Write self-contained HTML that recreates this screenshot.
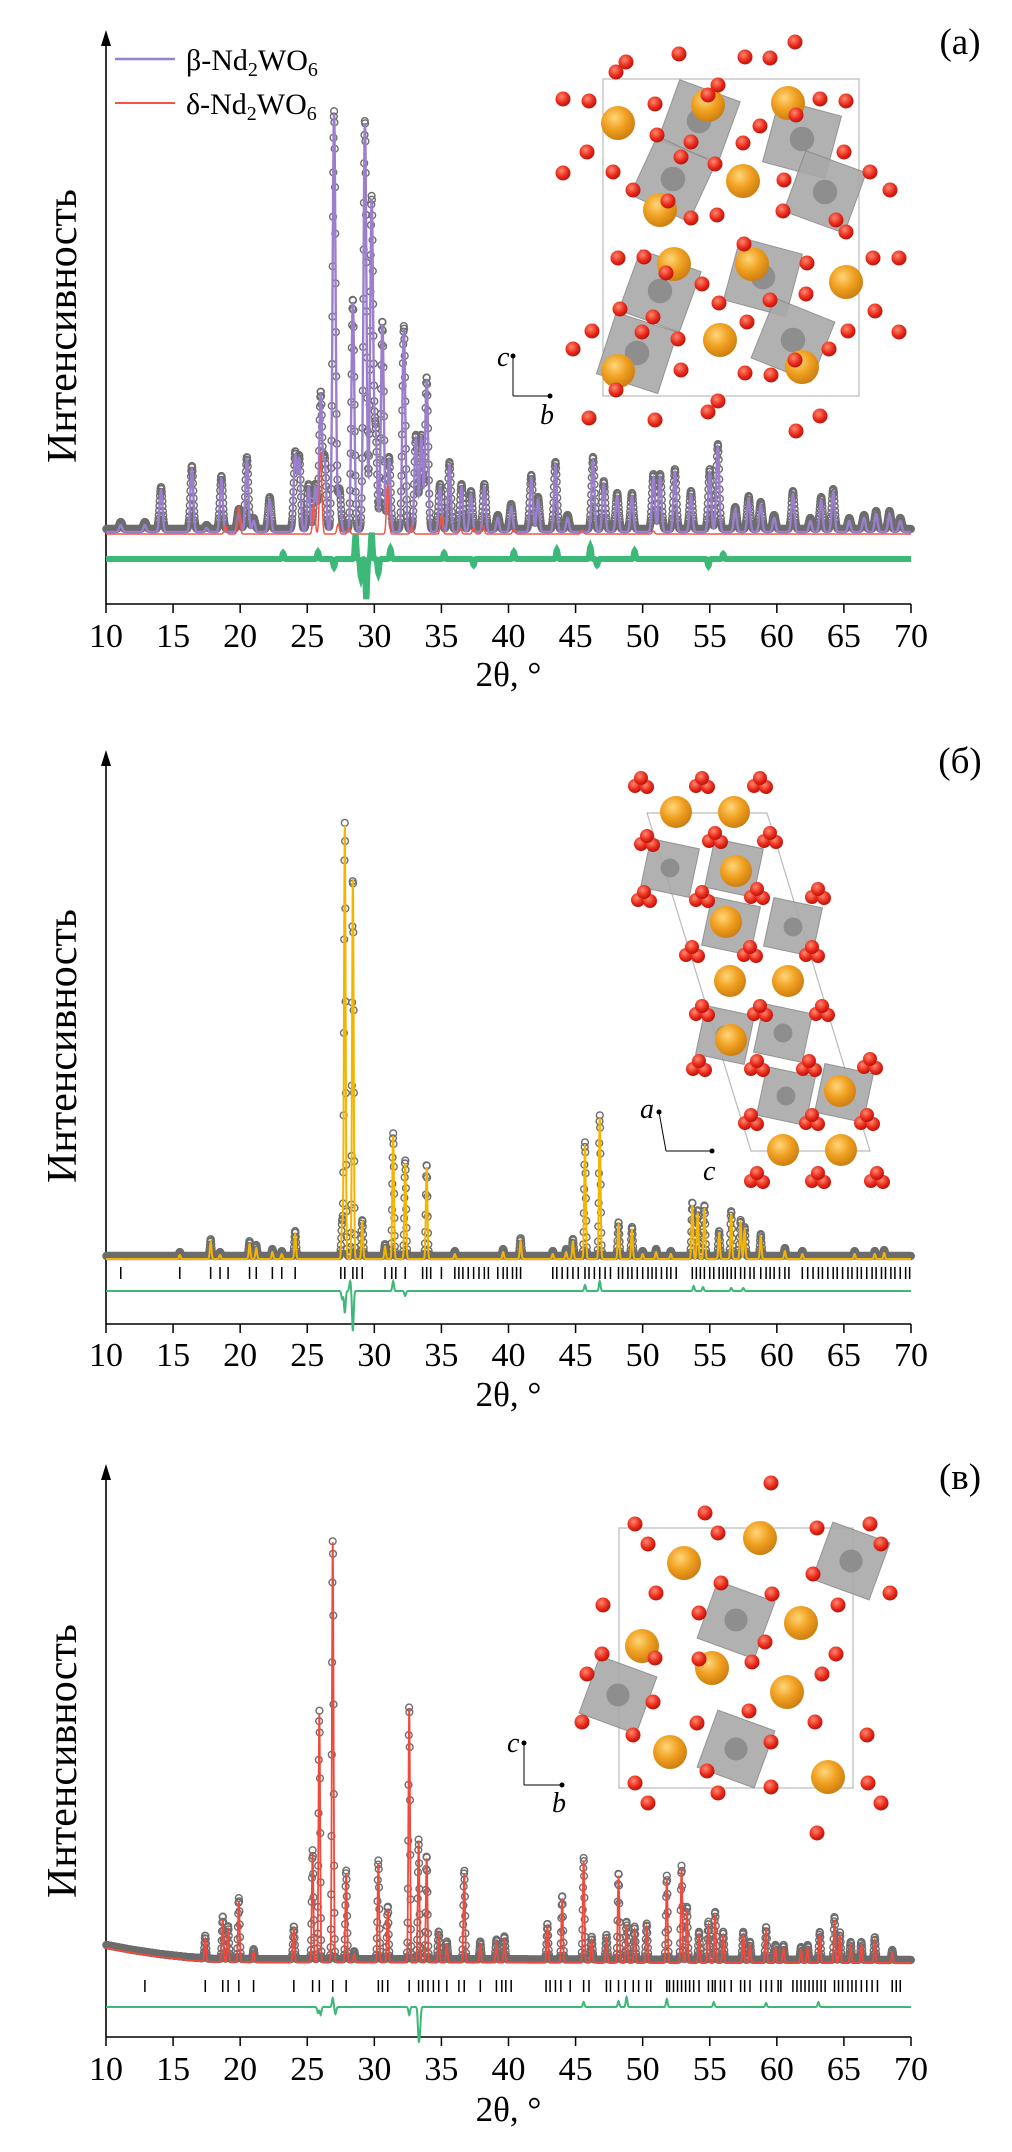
<!DOCTYPE html>
<html><head><meta charset="utf-8">
<style>
html,body{margin:0;padding:0;background:#fff;}
svg, svg text{font-family:"Liberation Serif","Times New Roman",serif;}
</style></head>
<body>
<svg id="fig" width="1012" height="2147" viewBox="0 0 1012 2147" xmlns="http://www.w3.org/2000/svg" font-family="Liberation Serif, serif">
<defs>
<radialGradient id="gOr" cx="0.4" cy="0.35" r="0.7"><stop offset="0" stop-color="#ffd67a"/><stop offset="0.5" stop-color="#f0a020"/><stop offset="1" stop-color="#c87a10"/></radialGradient>
<radialGradient id="gRd" cx="0.4" cy="0.35" r="0.7"><stop offset="0" stop-color="#ff8a70"/><stop offset="0.6" stop-color="#e8281a"/><stop offset="1" stop-color="#b01008"/></radialGradient>
</defs>
<g id="root"></g>
</svg>
<script>
// ---------- chart data ----------
const xTicks = [10,15,20,25,30,35,40,45,50,55,60,65,70];
// panel (a) beta-Nd2WO6 peaks
const aPeakPos = [11.1,12.9,14.1,16.4,17.5,18.6,19.9,20.5,21.0,22.2,24.1,24.4,25.1,25.6,26.0,26.3,27.0,27.4,28.4,29.3,29.8,30.1,30.6,31.1,32.2,33.1,33.5,33.9,34.9,35.6,36.5,37.2,38.2,39.2,40.2,41.7,42.2,43.5,44.4,46.3,47.1,48.1,49.2,50.8,51.3,52.4,53.6,55.0,55.6,56.9,57.9,58.8,59.8,61.2,62.5,63.3,64.2,65.4,66.5,67.4,68.4,69.2];
const aPeakInt = [7,7,42,63,4,53,20,72,11,32,76,72,45,45,136,70,418,40,230,409,331,94,208,72,203,94,94,152,45,67,45,38,45,14,25,54,32,67,14,72,48,36,36,55,55,60,38,60,85,22,33,27,14,38,11,32,40,11,14,18,18,11];
// panel (a) delta-Nd2WO6 peaks
const dPeakPos = [18.9,19.9,25.5,26.0,27.3,28.1,31.0,32.8,35.0,36.4,37.4,38.1,40.4,45.5,50.8];
const dPeakInt = [8,27,30,80,10,6,49,8,18,6,6,8,5,4,3];
// residual spikes (a)
const aResPos = [23.2,25.8,27.0,28.6,29.0,29.4,29.8,30.3,31.2,35.2,37.4,40.4,43.6,46.1,46.6,49.4,54.9,56.0];
const aResVal = [6,7,-8,24,-18,-40,26,-14,10,6,-6,7,9,12,-6,8,-7,5];
// panel (b) peaks
const bPeakPos = [15.5,17.8,18.5,20.7,21.2,22.4,23.1,24.1,27.6,27.8,28.4,29.1,30.8,31.4,32.3,33.9,36.0,39.6,40.9,43.3,44.3,44.8,45.7,46.8,48.2,49.2,50.0,51.0,52.1,53.7,54.1,54.6,55.7,56.6,57.3,57.6,58.8,60.6,61.9,65.8,67.3,68.0];
const bPeakInt = [4,17,4,15,11,7,5,25,34,434,380,36,12,123,96,92,5,7,18,5,7,17,114,141,34,29,5,7,5,54,46,51,25,45,36,29,22,8,5,5,5,6];
const bTicks = [11.1,15.5,17.8,18.5,19.1,20.7,21.2,22.4,23.1,24.1,27.5,27.8,28.4,28.7,29.1,30.8,31.3,31.6,32.3,33.6,33.9,34.2,35.0,36.0,36.3,36.6,37.0,37.4,37.8,38.2,38.5,39.2,39.6,39.9,40.3,40.6,40.9,43.3,43.6,44.0,44.4,44.8,45.2,45.7,46.0,46.4,46.8,47.2,47.6,48.2,48.5,48.9,49.2,49.6,50.0,50.4,50.7,51.0,51.4,51.8,52.1,52.5,53.7,54.0,54.3,54.6,55.0,55.3,55.7,56.0,56.3,56.6,56.9,57.3,57.6,58.0,58.3,58.8,59.2,59.5,59.8,60.2,60.6,60.9,61.9,62.3,62.7,63.1,63.4,63.8,64.2,64.5,64.9,65.3,65.6,66.0,66.3,66.7,67.1,67.4,67.8,68.1,68.5,68.8,69.2,69.6,69.9];
const bResPos = [27.6,27.8,28.2,28.4,31.4,32.3,45.7,46.8,53.8,54.5,56.6,57.5];
const bResVal = [-8,-22,10,-40,10,-5,6,10,5,4,3,3];
// panel (c) peaks
const cPeakPos = [17.4,18.7,19.1,19.9,21.0,24.0,25.4,25.9,26.9,27.9,28.5,30.3,31.0,32.6,33.3,33.9,34.8,35.4,36.7,37.9,39.1,39.7,42.9,44.0,45.6,46.2,47.3,48.2,48.8,49.4,50.3,51.8,52.9,53.3,54.2,54.9,55.4,56.0,57.5,58.0,59.2,59.9,60.5,61.8,62.3,63.2,64.3,64.7,65.5,66.3,67.3,68.6];
const cPeakInt = [23,43,33,61,10,33,109,249,420,89,8,99,53,254,120,104,28,18,89,18,20,23,36,64,102,23,25,87,38,33,36,84,94,53,28,38,48,28,28,18,33,15,15,13,15,28,43,28,18,18,23,10];
const cTicks = [12.9,17.4,18.7,19.1,19.9,21.0,24.0,25.4,25.9,26.9,27.9,30.3,30.6,31.0,32.6,33.3,33.6,34.0,34.4,34.8,35.4,36.3,36.7,37.9,39.1,39.5,39.8,40.2,42.8,43.1,43.5,43.9,44.6,45.6,46.0,47.3,47.6,48.2,48.7,49.3,49.7,50.3,50.6,51.8,52.0,52.3,52.6,52.9,53.2,53.5,53.8,54.2,54.9,55.2,55.4,55.8,56.1,56.6,57.3,57.6,58.0,58.8,59.2,59.6,60.1,60.3,61.2,61.5,61.8,62.1,62.4,62.7,63.0,63.3,63.6,64.3,64.6,64.9,65.3,65.6,65.9,66.3,66.7,67.1,67.5,68.6,68.9,69.2];
const cResPos = [25.8,26.0,26.9,27.1,32.6,33.3,33.4,45.6,48.2,48.8,51.8,55.3,59.2,63.1];
const cResVal = [-6,-8,9,-7,-8,-28,-20,5,6,10,8,5,4,5];
// background for (c)
const cBgPos = [10,12,14,16,18,70];
const cBgVal = [15,10,6,3,1,0];

// ---------- rendering ----------
const NS = "http://www.w3.org/2000/svg";
const FONT = '"Liberation Serif", "Times New Roman", serif';
const root = document.getElementById('root');
function mk(tag, attrs, parent){const e=document.createElementNS(NS,tag);for(const k in attrs)e.setAttribute(k,attrs[k]);if(tag==='text')e.setAttribute('font-family',FONT);(parent||root).appendChild(e);return e;}
const X0=106, X1=911;
function xs(t){return X0+(t-10)*(X1-X0)/60;}
function prof(pos,ints,w,t){let s=0;for(let i=0;i<pos.length;i++){const d=(t-pos[i])/w;if(Math.abs(d)<6)s+=ints[i]*Math.exp(-0.5*d*d);}return s;}
function bgInterp(t){for(let i=0;i<cBgPos.length-1;i++){if(t>=cBgPos[i]&&t<=cBgPos[i+1]){const f=(t-cBgPos[i])/(cBgPos[i+1]-cBgPos[i]);return cBgVal[i]+f*(cBgVal[i+1]-cBgVal[i]);}}return 0;}

function drawAxes(g, top, bot, lblY, titleY, ylabY, tag){
  const ax = mk('g',{},g);
  
  
  mk('line',{x1:X0,y1:bot,x2:X1,y2:bot,stroke:'#000','stroke-width':1.6},ax);
  mk('line',{x1:X0,y1:bot,x2:X0,y2:top+12,stroke:'#000','stroke-width':1.6},ax);
  const ar=mk('path',{d:`M${X0-5},${top+16} L${X0},${top} L${X0+5},${top+16} Z`,fill:'#000'},ax);
  
  xTicks.forEach(v=>{
    const x=xs(v);
    mk('line',{x1:x,y1:bot,x2:x,y2:bot+9,stroke:'#000','stroke-width':1.5},ax);
    const t=mk('text',{x:x,y:lblY,'text-anchor':'middle','font-size':34},ax);
    t.textContent=v;
    
    
  });
  const tt=mk('text',{x:(X0+X1)/2,y:titleY,'text-anchor':'middle','font-size':35},ax);
  tt.textContent='2θ, °';
  
  
  const yl=mk('text',{x:0,y:0,'text-anchor':'middle','font-size':42,transform:`translate(76,${ylabY}) rotate(-90)`},ax);
  yl.textContent='Интенсивность';
  
  
}

function drawPanel(cfg){
  const g=mk('g',{});
  
  
  drawAxes(g,cfg.top,cfg.bot,cfg.lblY,cfg.titleY,cfg.ylabY,cfg.tag);
  const ys=v=>cfg.base-v;
  const calc=t=>prof(cfg.pos,cfg.ints,cfg.w,t)+(cfg.bg?bgInterp(t):0);
  const og=mk('g',{fill:'none',stroke:'#6d6d6d','stroke-width':1.4},g);
  
  
  for(let t=10.02;t<70;t+=0.022){
    mk('circle',{cx:xs(t).toFixed(1),cy:(ys(calc(t))-3).toFixed(1),r:3.4},og);
  }
  let d='';
  for(let t=10;t<=70.0001;t+=0.01){d+=(d?'L':'M')+xs(t).toFixed(2)+','+ys(calc(t)).toFixed(2);}
  const cl=mk('path',{d:d,fill:'none',stroke:cfg.color,'stroke-width':cfg.lw||1.8},g);
  
  
  if(cfg.pos2){
    let d2='';
    for(let t=10;t<=70.0001;t+=0.01){d2+=(d2?'L':'M')+xs(t).toFixed(2)+','+(cfg.base+2-prof(cfg.pos2,cfg.ints2,0.09,t)).toFixed(2);}
    const p2=mk('path',{d:d2,fill:'none',stroke:'#f25548','stroke-width':1.5},g);
    
    
  }
  if(cfg.ticks){
    const tg=mk('g',{stroke:'#000','stroke-width':1.5},g);
    
    
    cfg.ticks.forEach(v=>{mk('line',{x1:xs(v),x2:xs(v),y1:cfg.tickY-6,y2:cfg.tickY+6},tg);});
  }
  let dd='';
  for(let t=10;t<=70.0001;t+=0.02){dd+=(dd?'L':'M')+xs(t).toFixed(2)+','+(cfg.diffY-prof(cfg.rpos,cfg.rval,0.06,t)).toFixed(2);}
  const df=mk('path',{d:dd,fill:'none',stroke:'#3cb878','stroke-width':cfg.dw||1.6},g);
  
  
  const pl=mk('text',{x:960,y:cfg.plY,'text-anchor':'middle','font-size':37},g);
  pl.textContent=cfg.label;
  
  
  return g;
}

drawPanel({tag:'a',top:30,bot:604,lblY:647,titleY:686,ylabY:326,base:532,pos:aPeakPos,ints:aPeakInt,w:0.11,color:'#9a7fcc',lw:2.4,pos2:dPeakPos,ints2:dPeakInt,rpos:aResPos,rval:aResVal,diffY:559,dw:6,plY:54,label:'(a)'});
drawPanel({tag:'b',top:750,bot:1324,lblY:1366,titleY:1406,ylabY:1046,base:1259,pos:bPeakPos,ints:bPeakInt,w:0.06,color:'#f5b400',lw:2,ticks:bTicks,tickY:1273,rpos:bResPos,rval:bResVal,diffY:1291,dw:2,plY:773,label:'(б)'});
drawPanel({tag:'c',top:1464,bot:2037,lblY:2080,titleY:2121,ylabY:1761,base:1963,pos:cPeakPos,ints:cPeakInt,w:0.06,color:'#f04a3e',lw:1.8,bg:true,ticks:cTicks,tickY:1986,rpos:cResPos,rval:cResVal,diffY:2007,dw:2,plY:1489,label:'(в)'});

// legend (a)
const lg=mk('g',{});


mk('line',{x1:115,y1:59,x2:175,y2:59,stroke:'#9a7fcc','stroke-width':2.5},lg);
mk('line',{x1:115,y1:103,x2:175,y2:103,stroke:'#f25548','stroke-width':2},lg);
const l1=mk('text',{x:186,y:70,'font-size':30},lg);
l1.innerHTML='β-Nd<tspan font-size="20" dy="6">2</tspan><tspan dy="-6">WO</tspan><tspan font-size="20" dy="6">6</tspan>';

const l2=mk('text',{x:186,y:114,'font-size':30},lg);
l2.innerHTML='δ-Nd<tspan font-size="20" dy="6">2</tspan><tspan dy="-6">WO</tspan><tspan font-size="20" dy="6">6</tspan>';


// ---------- crystal structure insets ----------
function poly(g,cx,cy,h,rot){
  const pts=[];for(let k=0;k<4;k++){const a=(rot+45+90*k)*Math.PI/180;pts.push((cx+h*1.3*Math.cos(a)).toFixed(1)+','+(cy+h*1.3*Math.sin(a)).toFixed(1));}
  mk('polygon',{points:pts.join(' '),fill:'#a9a9a9',stroke:'#888','stroke-width':1,opacity:0.9},g);
  mk('circle',{cx:cx,cy:cy,r:h*0.35,fill:'#8e8e8e'},g);
}
function atoms(g,list,r,fill){list.forEach(p=>mk('circle',{cx:p[0],cy:p[1],r:r,fill:fill},g));}
function axesInd(g,ox,oy,ux,uy,rx,ry,l1,l1x,l1y,l2,l2x,l2y){
  mk('line',{x1:ox,y1:oy,x2:ux,y2:uy,stroke:'#000','stroke-width':1},g);
  mk('line',{x1:ox,y1:oy,x2:rx,y2:ry,stroke:'#000','stroke-width':1},g);
  mk('circle',{cx:ux,cy:uy,r:2.5,fill:'#000'},g);
  mk('circle',{cx:rx,cy:ry,r:2.5,fill:'#000'},g);
  const a=mk('text',{x:l1x,y:l1y,'font-size':28,'font-style':'italic'},g);a.textContent=l1;
  const b=mk('text',{x:l2x,y:l2y,'font-size':28,'font-style':'italic'},g);b.textContent=l2;
}
const ia=mk('g',{});


mk('rect',{x:603,y:79,width:256,height:317,fill:'none',stroke:'#bbb','stroke-width':1.2},ia);
[[699,121,35,20],[802,139,35,15],[673,179,35,25],[825,192,35,20],[660,291,35,20],[763,277,35,15],[637,353,35,18],[793,340,35,22]].forEach(p=>poly(ia,p[0],p[1],p[2],p[3]));
atoms(ia,[[618,123],[708,105],[788,103],[743,181],[660,210],[674,264],[752,264],[846,282],[720,340],[802,367],[618,371]],17,'url(#gOr)');
atoms(ia,[[795,42],[679,54],[745,57],[770,58],[626,62],[616,72],[718,85],[563,99],[589,101],[655,104],[820,99],[846,101],[708,95],[796,115],[760,126],[657,135],[691,142],[743,143],[587,152],[844,152],[681,157],[715,164],[563,173],[613,172],[870,172],[784,180],[633,190],[890,190],[668,201],[691,218],[717,215],[783,211],[836,220],[846,232],[744,244],[618,258],[644,257],[807,263],[873,258],[899,258],[666,273],[702,284],[806,294],[719,303],[770,300],[620,309],[653,317],[875,311],[747,322],[592,331],[642,332],[848,331],[899,332],[678,339],[573,349],[829,349],[795,360],[681,370],[745,373],[771,375],[616,390],[718,401],[708,412],[820,416],[589,418],[655,420],[796,431]],7.5,'url(#gRd)');
axesInd(ia,513,396,513,356,550,396,'c',497,366,'b',540,424);
const ib=mk('g',{});


mk('polygon',{points:'647,813 767,813 870,1151 751,1151',fill:'none',stroke:'#bbb','stroke-width':1.2},ib);
[[670,868],[734,868],[731,926],[793,927],[725,1035],[783,1033],[786,1096],[844,1093]].forEach(p=>poly(ib,p[0],p[1],27,12));
atoms(ib,[[676,812],[734,812],[736,871],[726,922],[730,981],[788,981],[731,1040],[840,1091],[783,1150],[841,1150]],16,'url(#gOr)');
const redB=[[641,783],[702,783],[760,783],[647,841],[715,838],[770,838],[644,897],[702,897],[757,894],[818,894],[692,952],[750,952],[812,952],[702,1011],[760,1011],[822,1011],[699,1066],[757,1066],[809,1066],[870,1064],[751,1120],[812,1120],[867,1120],[757,1178],[818,1178],[877,1178]];
redB.forEach(p=>atoms(ib,[[p[0]-6,p[1]+3],[p[0]+6,p[1]+4],[p[0],p[1]-5]],7,'url(#gRd)'));
axesInd(ib,666,1151,659,1112,712,1151,'a',640,1118,'c',703,1180);
const ic=mk('g',{});


mk('rect',{x:619,y:1528,width:234,height:260,fill:'none',stroke:'#bbb','stroke-width':1.2},ic);
[[851,1561],[736,1620],[618,1695],[736,1749]].forEach(p=>poly(ic,p[0],p[1],33,20));
atoms(ic,[[760,1538],[684,1563],[801,1623],[642,1646],[712,1668],[787,1692],[670,1752],[828,1777]],17,'url(#gOr)');
atoms(ic,[[771,1483],[635,1524],[705,1513],[718,1533],[817,1528],[870,1524],[648,1544],[881,1544],[813,1574],[656,1593],[721,1583],[772,1594],[890,1593],[603,1605],[699,1613],[838,1605],[765,1642],[602,1654],[655,1658],[836,1654],[699,1659],[752,1662],[822,1674],[587,1674],[653,1702],[582,1722],[749,1711],[697,1723],[815,1722],[633,1735],[867,1735],[771,1742],[707,1771],[635,1783],[771,1787],[868,1783],[718,1793],[648,1803],[881,1803],[817,1833]],7.5,'url(#gRd)');
axesInd(ic,524,1785,524,1743,562,1785,'c',507,1752,'b',552,1812);
</script>
</body></html>
